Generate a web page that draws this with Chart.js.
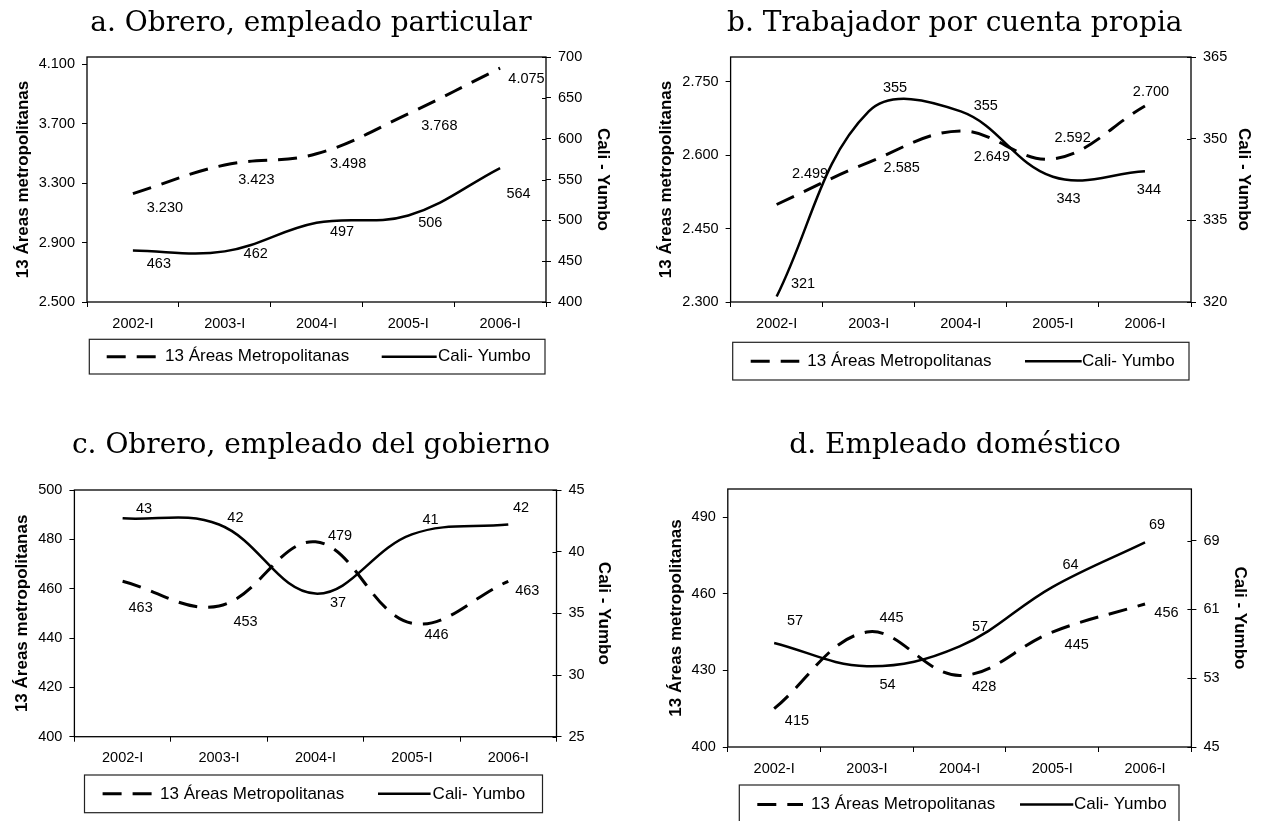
<!DOCTYPE html>
<html>
<head>
<meta charset="utf-8">
<script src="https://cdn.jsdelivr.net/npm/chart.js@4.4.1/dist/chart.umd.min.js"></script>
<style>
html,body{margin:0;padding:0;background:#fff;}
#wrap{position:relative;width:1264px;height:821px;overflow:hidden;background:#fff;}
canvas{position:absolute;}
</style>
</head>
<body>
<div id="wrap">
<canvas id="ca" width="632" height="390" style="left:0px;top:0px;width:632px;height:390px"></canvas>
<canvas id="cb" width="632" height="390" style="left:632px;top:0px;width:632px;height:390px"></canvas>
<canvas id="cc" width="632" height="431" style="left:0px;top:390px;width:632px;height:431px"></canvas>
<canvas id="cd" width="632" height="431" style="left:632px;top:390px;width:632px;height:431px"></canvas>
</div>
<script>
// ---------- DATA ----------
const categories = ['2002-I', '2003-I', '2004-I', '2005-I', '2006-I'];
const seriesNames = ['13 Áreas Metropolitanas', 'Cali- Yumbo'];
const leftAxisTitle = '13 Áreas metropolitanas';
const rightAxisTitle = 'Cali - Yumbo';

const titleA = 'a. Obrero, empleado particular';
const titleB = 'b. Trabajador por cuenta propia';
const titleC = 'c. Obrero, empleado del gobierno';
const titleD = 'd. Empleado doméstico';

const areasA = [3230, 3423, 3498, 3768, 4075];
const caliA  = [463, 462, 497, 506, 564];
const areasB = [2499, 2585, 2649, 2592, 2700];
const caliB  = [321, 355, 355, 343, 344];
const areasC = [463, 453, 479, 446, 463];
const caliC  = [42.7, 42.2, 36.6, 41.4, 42.2];
const areasD = [415, 445, 428, 445, 456];
const caliD  = [57.1, 54.4, 56.7, 63.6, 68.8];

const leftTicksA  = [2500, 2900, 3300, 3700, 4100];
const rightTicksA = [400, 450, 500, 550, 600, 650, 700];
const leftTicksB  = [2300, 2450, 2600, 2750];
const rightTicksB = [320, 335, 350, 365];
const leftTicksC  = [400, 420, 440, 460, 480, 500];
const rightTicksC = [25, 30, 35, 40, 45];
const leftTicksD  = [400, 430, 460, 490];
const rightTicksD = [45, 53, 61, 69];

const leftRangeA = [2500, 4150], rightRangeA = [400, 700];
const leftRangeB = [2300, 2800], rightRangeB = [320, 365];
const leftRangeC = [400, 500],   rightRangeC = [25, 45];
const leftRangeD = [400, 501],   rightRangeD = [45, 75];

// ---------- LAYOUT / STYLE (positions, not data) ----------
const layouts = {
  a: { plot:{left:87, right:546, top:57, bottom:302}, title:{x:311, y:30.5}, lpad:12.8, rpad:18.8,
       legend:{box:[89.3,339.3,545,374], dash:106.7, text1:165, solid:[381.7,436.7], text2:438},
       offA:[[32,14],[31.6,15.3],[31.6,10.4],[31,12.5],[26.4,11]],
       offC:[[26,13.6],[31,3],[25.5,9.6],[22,7.4],[18.4,26]] },
  b: { plot:{left:98.6, right:559, top:57, bottom:302}, title:{x:322.8, y:30.5}, lpad:23.8, rpad:9.8,
       legend:{box:[100.7,342.3,557,380], dash:118.7, text1:175.3, solid:[393,449.7], text2:450},
       offA:[[33.4,-30.4],[33,5.3],[31,25.6],[19.7,-20.7],[6,-14.5]],
       offC:[[26.4,-13],[26.3,-23.3],[25,-5],[15.7,22],[4,19]] },
  c: { plot:{left:74.4, right:556.5, top:100, bottom:346.7}, title:{x:311, y:63.3}, lpad:11.8, rpad:18.2,
       legend:{box:[84.5,385,542.5,422.7], dash:102.6, text1:160, solid:[378,430.6], text2:432.6},
       offA:[[18,27],[26.5,16.3],[24.6,-6.1],[24.7,11.8],[19,9.7]],
       offC:[[21.4,-9.4],[16.4,-6.9],[22.5,9.6],[18.7,-14.5],[12.7,-16.3]] },
  d: { plot:{left:95.8, right:559.4, top:99, bottom:357}, title:{x:323, y:63.3}, lpad:33.8, rpad:14.2,
       legend:{box:[107.3,395,547,434], dash:125.3, text1:179, solid:[388,441.3], text2:442},
       offA:[[22.8,12],[24.7,-13.8],[24.5,11.2],[24.4,12.9],[21.4,8.7]],
       offC:[[20.8,-21.9],[20.6,18.7],[20.4,-19.7],[18.3,-22],[12,-17.3]] }
};

const SANS = '"Liberation Sans", Arial, sans-serif';
const SERIF = '"DejaVu Serif", serif';
const TICK_SIZE = 14.5;
Chart.defaults.font.family = SANS;
Chart.defaults.font.size = TICK_SIZE;
Chart.defaults.color = '#000';

function fmt(v) {
  return String(Math.round(v)).replace(/\B(?=(\d{3})+(?!\d))/g, '.');
}

const panelPlugin = {
  id: 'panelDecor',
  afterDraw(chart) {
    const L = chart.options.plugins.panelDecor;
    const ctx = chart.ctx;
    const ca = chart.chartArea;
    ctx.save();
    // plot border
    ctx.strokeStyle = '#000';
    ctx.lineWidth = 1.3;
    ctx.setLineDash([]);
    ctx.strokeRect(ca.left, ca.top, ca.right - ca.left, ca.bottom - ca.top);
    // inner half of the right-axis tick marks (ticks cross the axis)
    const yR = chart.scales.yR;
    ctx.lineWidth = 1;
    yR.ticks.forEach(t => {
      const py = Math.round(yR.getPixelForValue(t.value)) + 0.5;
      ctx.beginPath(); ctx.moveTo(ca.right - 4, py); ctx.lineTo(ca.right, py); ctx.stroke();
    });
    // title
    ctx.fillStyle = '#000';
    ctx.font = '28px ' + SERIF;
    ctx.textAlign = 'center';
    ctx.textBaseline = 'alphabetic';
    ctx.fillText(L.titleText, L.title.x, L.title.y);
    // data labels
    ctx.font = TICK_SIZE + 'px ' + SANS;
    ctx.textBaseline = 'middle';
    chart.data.datasets.forEach((ds, di) => {
      const meta = chart.getDatasetMeta(di);
      const offs = di === 0 ? L.offA : L.offC;
      meta.data.forEach((pt, j) => {
        const o = offs[j];
        ctx.fillText(fmt(ds.data[j]), pt.x + o[0], pt.y + o[1]);
      });
    });
    // legend
    const lg = L.legend;
    const [x0, y0, x1, y1] = lg.box;
    ctx.strokeStyle = '#222';
    ctx.lineWidth = 1.2;
    ctx.strokeRect(x0, y0, x1 - x0, y1 - y0);
    const my = (y0 + y1) / 2 > 420 ? 415.7 : (y0 + y1) / 2;
    const d0 = chart.data.datasets[0], d1 = chart.data.datasets[1];
    ctx.strokeStyle = '#000';
    ctx.lineWidth = d0.borderWidth;
    ctx.setLineDash(d0.borderDash);
    ctx.beginPath(); ctx.moveTo(lg.dash, my); ctx.lineTo(lg.text1 - 8, my); ctx.stroke();
    ctx.setLineDash([]);
    ctx.lineWidth = d1.borderWidth;
    ctx.beginPath(); ctx.moveTo(lg.solid[0], my); ctx.lineTo(lg.solid[1], my); ctx.stroke();
    ctx.font = '17px ' + SANS;
    ctx.textAlign = 'left';
    ctx.textBaseline = 'middle';
    ctx.fillText(d0.label, lg.text1, my);
    ctx.fillText(d1.label, lg.text2, my);
    ctx.restore();
  }
};

function makePanel(canvasId, key, titleText, areas, cali, lTicks, rTicks, lRange, rRange) {
  const L = layouts[key];
  const canvas = document.getElementById(canvasId);
  const W = canvas.width, H = canvas.height;
  const P = L.plot;
  new Chart(canvas, {
    type: 'line',
    data: {
      labels: categories,
      datasets: [
        { label: seriesNames[0], data: areas, yAxisID: 'yL', borderColor: '#000',
          borderWidth: 3, borderDash: [19, 11], pointRadius: 0, tension: 0.38, fill: false },
        { label: seriesNames[1], data: cali, yAxisID: 'yR', borderColor: '#000',
          borderWidth: 2.5, borderDash: [], pointRadius: 0, tension: 0.38, fill: false }
      ]
    },
    options: {
      responsive: false,
      animation: false,
      events: [],
      layout: { padding: { top: P.top, left: 0, right: 0, bottom: 0 } },
      plugins: {
        legend: { display: false },
        title: { display: false },
        tooltip: { enabled: false },
        panelDecor: Object.assign({ titleText }, L)
      },
      scales: {
        x: {
          type: 'category',
          offset: true,
          border: { display: false },
          grid: { offset: true, drawOnChartArea: false, drawTicks: true, tickLength: 5, color: '#000', lineWidth: 1 },
          ticks: { maxRotation: 0, autoSkip: false, padding: 8, font: { size: TICK_SIZE }, color: '#000' },
          afterFit(s) { s.height = H - P.bottom; s.paddingLeft = 0; s.paddingRight = 0; }
        },
        yL: {
          type: 'linear', position: 'left', min: lRange[0], max: lRange[1],
          border: { display: false },
          grid: { drawOnChartArea: false, drawTicks: true, tickLength: 5, color: '#000', lineWidth: 1 },
          ticks: { padding: 7, font: { size: TICK_SIZE }, color: '#000', callback: v => fmt(v) },
          afterBuildTicks(s) { s.ticks = lTicks.map(v => ({ value: v })); },
          title: { display: true, text: leftAxisTitle, color: '#000',
                   font: { size: 17, weight: 'bold', family: SANS }, padding: { top: L.lpad, bottom: 0 } },
          afterFit(s) { s.width = P.left; }
        },
        yR: {
          type: 'linear', position: 'right', min: rRange[0], max: rRange[1],
          border: { display: false },
          grid: { drawOnChartArea: false, drawTicks: true, tickLength: 5, color: '#000', lineWidth: 1 },
          ticks: { padding: 7, font: { size: TICK_SIZE }, color: '#000', callback: v => fmt(v) },
          afterBuildTicks(s) { s.ticks = rTicks.map(v => ({ value: v })); },
          title: { display: true, text: rightAxisTitle, color: '#000',
                   font: { size: 17, weight: 'bold', family: SANS }, padding: { top: L.rpad, bottom: 0 } },
          afterFit(s) { s.width = W - P.right; }
        }
      }
    },
    plugins: [panelPlugin]
  });
}

makePanel('ca', 'a', titleA, areasA, caliA, leftTicksA, rightTicksA, leftRangeA, rightRangeA);
makePanel('cb', 'b', titleB, areasB, caliB, leftTicksB, rightTicksB, leftRangeB, rightRangeB);
makePanel('cc', 'c', titleC, areasC, caliC, leftTicksC, rightTicksC, leftRangeC, rightRangeC);
makePanel('cd', 'd', titleD, areasD, caliD, leftTicksD, rightTicksD, leftRangeD, rightRangeD);
</script>
</body>
</html>
